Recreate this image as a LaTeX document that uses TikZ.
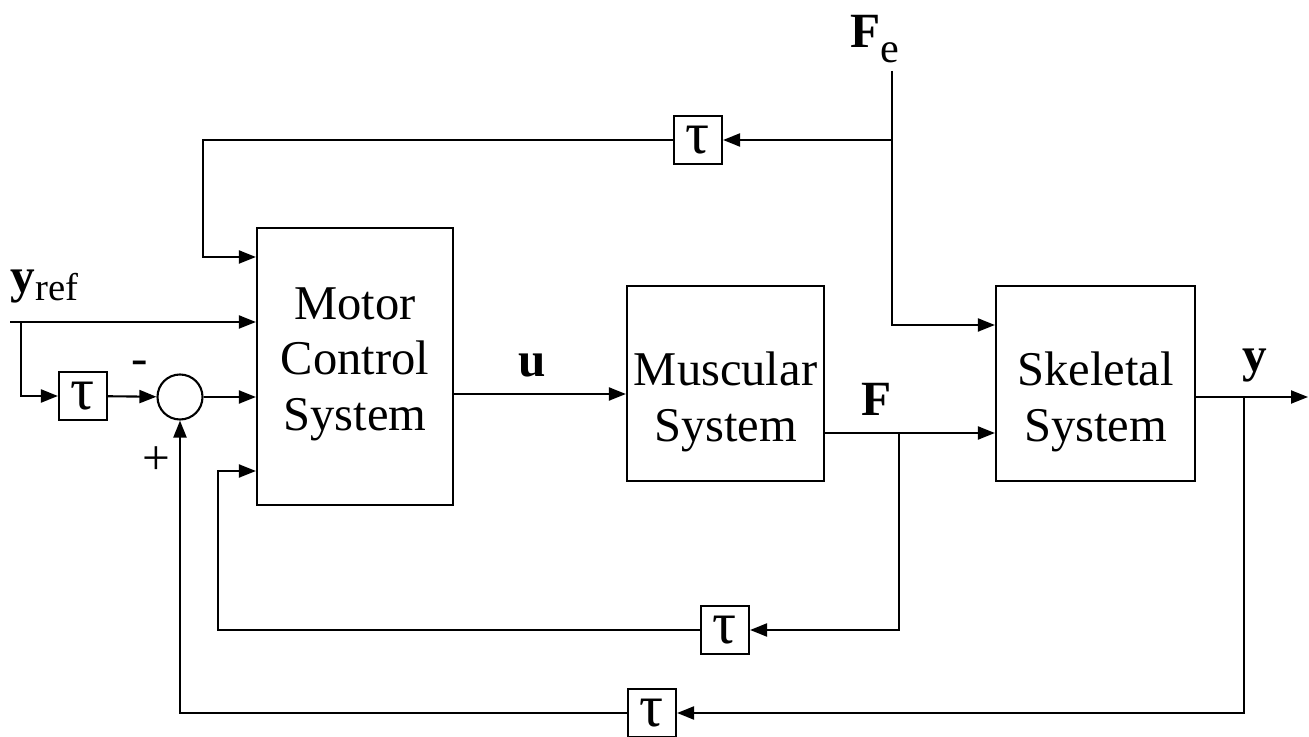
\documentclass[tikz,border=0pt]{standalone}
\usepackage{fontspec}
\setmainfont{Liberation Serif}
\usepackage{tikz}
\usetikzlibrary{arrows.meta,positioning,calc}

\begin{document}
\begin{tikzpicture}[
  x=0.01cm, y=-0.01cm,
  blk/.style={rectangle, draw, line width=0.6pt},
  txt/.style={align=center, inner sep=0pt, font=\fontsize{13.8}{15.8}\selectfont},
  dly/.style={rectangle, draw, line width=0.6pt, minimum width=0.48cm,
              minimum height=0.48cm, inner sep=0pt, font=\fontsize{17}{17}\selectfont},
  sumc/.style={circle, draw, line width=0.6pt, minimum size=0.45cm, inner sep=0pt},
  arr/.style={line width=0.6pt, -{Triangle[length=1.7mm,width=1.3mm]}},
  lbl/.style={inner sep=0pt, font=\fontsize{14}{14}\selectfont\bfseries},
  sgn/.style={inner sep=0pt, font=\fontsize{14}{14}\selectfont}
]
  \useasboundingbox (0,0) rectangle (1309,737);

  % blocks
  \node[blk, minimum width=1.96cm, minimum height=2.77cm] (mcs) at (355,366.5) {};
  \node[txt] (mcstxt) at (355,364) {Motor\\Control\\System};
  \node[blk, minimum width=1.97cm, minimum height=1.95cm] (mus) at (725.5,383.5) {};
  \node[txt] (mustxt) at (725.5,402) {Muscular\\System};
  \node[blk, minimum width=1.99cm, minimum height=1.95cm] (ske) at (1095.5,383.5) {};
  \node[txt] (sketxt) at (1095.5,402) {Skeletal\\System};

  % delays and summing point
  \node[dly] (d1) at (83,396) {τ};
  \node[dly] (d2) at (698,140) {τ};
  \node[dly] (d3) at (725,630) {τ};
  \node[dly] (d4) at (652,713) {τ};
  \node[sumc] (sum) at (180,397) {};

  % junctions
  \coordinate (yin) at (10,322);
  \coordinate (yb) at (21,322);
  \coordinate (uy) at (0,394);
  \coordinate (fy) at (0,433);
  \coordinate (fb) at (899,433);
  \coordinate (mb) at (218,471);
  \coordinate (yo) at (1308,397);
  \coordinate (yb2) at (1244,397);
  \coordinate (fe) at (892,71);
  \coordinate (fey) at (0,325);
  \coordinate (feb) at (892,140);
  \coordinate (mt) at (203,257);

  % signals
  \draw[arr] (yin) -- (mcs.west |- yin);
  \draw[arr] (yb) |- (d1);
  \draw[arr] (d1) -- (sum);
  \draw[arr] (sum) -- (mcs.west |- sum);
  \draw[arr] (mcs.east |- uy) -- (mus.west |- uy);
  \draw[arr] (mus.east |- fy) -- (ske.west |- fy);
  \draw[arr] (fb) |- (d3);
  \draw[arr] (d3) -| (mb) -- (mcs.west |- mb);
  \draw[arr] (ske.east |- yo) -- (yo);
  \draw[arr] (yb2) |- (d4);
  \draw[arr] (d4) -| (sum);
  \draw[arr] (fe) |- (ske.west |- fey);
  \draw[arr] (feb) -- (d2);
  \draw[arr] (d2) -| (mt) -- (mcs.west |- mt);

  % labels
  \node[lbl, anchor=base west] (yref) at (10,293) {y\raisebox{-2pt}{\fontsize{11}{11}\selectfont\mdseries ref}};
  \node[sgn] (minus) at (140,368) {-};
  \node[sgn] (plus) at (156,461) {+};
  \node[lbl, anchor=base] (ul) at (532,377) {u};
  \node[lbl, anchor=base] (fl) at (877,416) {F};
  \node[lbl, anchor=base west] (fel) at (850,48) {F\raisebox{-4pt}{\fontsize{12}{12}\selectfont\mdseries e}};
  \node[lbl, anchor=base] (yl) at (1255,372) {y};
\end{tikzpicture}
\end{document}
